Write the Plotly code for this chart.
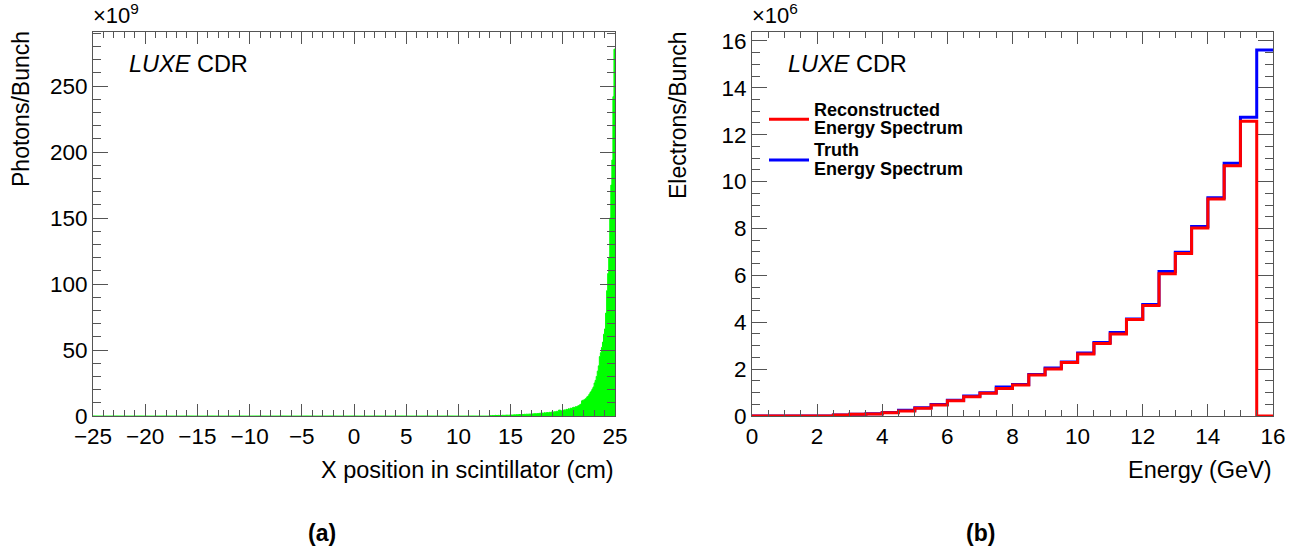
import numpy as np
import plotly.graph_objects as go

W, H = 1296, 549

# (a) photons per bunch (x1e9), 0.1 cm bins; everything below 13 cm is empty
x_bin_width = 0.1
x_first_filled = 13.0
photons = [
    0.3, 0.2, 0.4, 0.3, 0.3, 0.5, 0.4, 0.4, 0.5, 0.4,
    0.5, 0.4, 0.6, 0.5, 0.5, 0.6, 0.7, 0.6, 0.6, 0.7,
    0.8, 0.7, 0.8, 0.9, 0.8, 1.0, 0.9, 1.0, 1.1, 1.0,
    1.1, 1.2, 1.1, 1.3, 1.2, 1.4, 1.3, 1.4, 1.5, 1.4,
    1.6, 1.5, 1.7, 1.8, 1.6, 1.9, 1.8, 2.0, 2.1, 1.9,
    2.2, 2.1, 2.4, 2.3, 2.5, 2.6, 2.4, 2.8, 2.7, 3.0,
    3.1, 2.9, 3.3, 3.2, 3.6, 3.4, 4.5, 4.4, 3.8, 4.0,
    4.3, 4.6, 4.4, 5.0, 4.8, 5.4, 5.2, 5.9, 5.7, 6.3,
    6.6, 6.4, 7.1, 7.0, 7.6, 7.9, 8.5, 9.0, 11.5, 12.0,
    12.2, 12.8, 13.5, 14.5, 15.2, 16.5, 17.8, 19.0, 20.5, 22.0,
    25.0, 27.0, 30.0, 34.0, 38.0, 45.0, 48.0, 52.0, 56.0, 62.0,
    66.0, 78.0, 95.0, 108.0, 120.0, 150.0, 175.0, 194.0, 242.0, 278.0,
]

# (b) electrons per bunch (x1e6), 0.5 GeV bins from 0 to 16 GeV
reco = [
    0.0, 0.0, 0.0, 0.0, 0.0, 0.04, 0.07, 0.09, 0.14, 0.21,
    0.33, 0.47, 0.65, 0.82, 0.97, 1.17, 1.32, 1.75, 2.00, 2.28,
    2.65, 3.09, 3.50, 4.12, 4.71, 6.07, 6.93, 8.02, 9.26, 10.68,
    12.57, 0.0,
]
truth = [
    0.0, 0.0, 0.0, 0.0, 0.0, 0.04, 0.07, 0.10, 0.15, 0.24,
    0.35, 0.49, 0.67, 0.85, 0.99, 1.24, 1.34, 1.77, 2.05, 2.30,
    2.69, 3.14, 3.56, 4.14, 4.76, 6.16, 6.98, 8.08, 9.31, 10.78,
    12.74, 15.61,
]

FONT = "Liberation Sans, Arial, Helvetica, sans-serif"
AX = "#555555"


def px(x):
    return x / W


def py(y):
    return 1 - y / H


def legend_name(*lines):
    # legend line spacing follows the (small) legend font size; text itself is larger
    return "<br>".join(f'<span style="font-size:18px">{s}</span>' for s in lines)


# full histogram for (a): zeros from -25 up to the first filled bin
n_empty = int(round((x_first_filled + 25) / x_bin_width))
counts_a = [0.0] * n_empty + photons
edges_a = np.linspace(-25, 25, len(counts_a) + 1)

edges_b = np.linspace(0, 16, len(reco) + 1)

fig = go.Figure()

fig.add_trace(
    go.Scatter(
        x=edges_a,
        y=counts_a + [counts_a[-1]],
        mode="lines",
        line=dict(color="#00ff00", width=1, shape="hv"),
        fill="tozeroy",
        fillcolor="#00ff00",
        showlegend=False,
        xaxis="x",
        yaxis="y",
    )
)

fig.add_trace(
    go.Scatter(
        x=edges_b,
        y=truth + [truth[-1]],
        mode="lines",
        line=dict(color="#0000ff", width=3, shape="hv"),
        name=legend_name("Truth", "Energy Spectrum"),
        legendrank=2,
        xaxis="x2",
        yaxis="y2",
    )
)
fig.add_trace(
    go.Scatter(
        x=edges_b,
        y=reco + [reco[-1]],
        mode="lines",
        line=dict(color="#ff0000", width=3, shape="hv"),
        name=legend_name("Reconstructed", "Energy Spectrum"),
        legendrank=1,
        xaxis="x2",
        yaxis="y2",
    )
)

common = dict(
    showline=True,
    linecolor=AX,
    linewidth=1,
    mirror="ticks",
    ticks="inside",
    tickcolor=AX,
    showgrid=False,
    zeroline=False,
    automargin=False,
    tickfont=dict(family=FONT, size=22.5, color="black"),
)

y_dom = [py(416), py(32)]

fig.update_layout(
    width=W,
    height=H,
    margin=dict(l=0, r=0, t=0, b=0),
    plot_bgcolor="white",
    paper_bgcolor="white",
    font=dict(family=FONT, color="black"),
    xaxis=dict(
        domain=[px(93), px(615)],
        range=[-25, 25],
        dtick=5,
        ticklen=12,
        minor=dict(ticks="inside", dtick=1, ticklen=6, tickcolor=AX),
        anchor="y",
        **common,
    ),
    yaxis=dict(
        domain=y_dom,
        range=[0, 291],
        dtick=50,
        ticklen=15,
        minor=dict(ticks="inside", dtick=10, ticklen=8, tickcolor=AX),
        anchor="x",
        **common,
    ),
    xaxis2=dict(
        domain=[px(752), px(1273)],
        range=[0, 16],
        dtick=2,
        ticklen=12,
        minor=dict(ticks="inside", dtick=0.5, ticklen=6, tickcolor=AX),
        anchor="y2",
        **common,
    ),
    yaxis2=dict(
        domain=y_dom,
        range=[0, 16.38],
        dtick=2,
        ticklen=15,
        minor=dict(ticks="inside", dtick=0.5, ticklen=8, tickcolor=AX),
        anchor="x2",
        **common,
    ),
    legend=dict(
        x=px(764),
        y=py(94),
        xanchor="left",
        yanchor="top",
        bgcolor="rgba(0,0,0,0)",
        font=dict(family=FONT, size=14.5, weight="bold", color="black"),
        tracegroupgap=0,
        itemwidth=40,
    ),
)

notes = [
    # text, x px, y px, xanchor, yanchor, size, angle
    ("<i>LUXE</i> CDR", 127, 64, "left", "middle", 23.5, 0),
    ("<i>LUXE</i> CDR", 786, 64, "left", "middle", 23.5, 0),
    ("×10<sup>9</sup>", 91, 30, "left", "bottom", 22, 0),
    ("×10<sup>6</sup>", 750, 30, "left", "bottom", 22, 0),
    ("Photons/Bunch", 21, 109, "center", "middle", 23, -90),
    ("Electrons/Bunch", 678, 116, "center", "middle", 23, -90),
    ("X position in scintillator (cm)", 616, 470, "right", "middle", 23.5, 0),
    ("Energy (GeV)", 1274, 470, "right", "middle", 23.5, 0),
    ("<b>(a)</b>", 322, 533, "center", "middle", 23, 0),
    ("<b>(b)</b>", 980, 533, "center", "middle", 23, 0),
]
for text, x, y, xa, ya, size, angle in notes:
    fig.add_annotation(
        text=text,
        x=px(x),
        y=py(y),
        xref="paper",
        yref="paper",
        xanchor=xa,
        yanchor=ya,
        textangle=angle,
        showarrow=False,
        font=dict(family=FONT, size=size, color="black"),
    )

# drop the default 8px body margin so the figure fills the page exactly
fig.write_html(
    "out.html",
    config={"displayModeBar": False},
    post_script="document.body.style.margin = '0';",
)
